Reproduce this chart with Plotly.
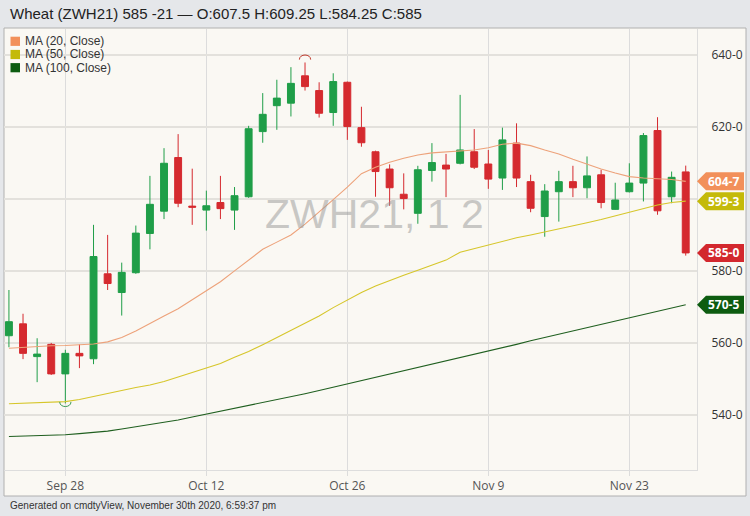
import plotly.graph_objects as go

dates = ["2020-09-22", "2020-09-23", "2020-09-24", "2020-09-25", "2020-09-28", "2020-09-29", "2020-09-30",
         "2020-10-01", "2020-10-02", "2020-10-05", "2020-10-06", "2020-10-07", "2020-10-08", "2020-10-09",
         "2020-10-12", "2020-10-13", "2020-10-14", "2020-10-15", "2020-10-16", "2020-10-19", "2020-10-20",
         "2020-10-21", "2020-10-22", "2020-10-23", "2020-10-26", "2020-10-27", "2020-10-28", "2020-10-29",
         "2020-10-30", "2020-11-02", "2020-11-03", "2020-11-04", "2020-11-05", "2020-11-06", "2020-11-09",
         "2020-11-10", "2020-11-11", "2020-11-12", "2020-11-13", "2020-11-16", "2020-11-17", "2020-11-18",
         "2020-11-19", "2020-11-20", "2020-11-23", "2020-11-24", "2020-11-25", "2020-11-27", "2020-11-30"]

open_ = [562.0, 565.3, 556.2, 559.6, 551.4, 557.1, 555.6, 579.2, 574.0, 579.5, 590.4, 596.6, 611.5, 598.0,
         596.9, 599.0, 596.9, 600.6, 618.7, 625.9, 626.6, 634.2, 630.1, 624.0, 632.4, 619.8, 613.1, 608.3,
         601.3, 596.0, 607.9, 609.4, 609.9, 613.1, 609.7, 605.8, 615.5, 604.8, 595.1, 602.0, 604.8, 603.1,
         606.7, 597.1, 602.0, 604.4, 619.0, 600.6, 607.5]
high = [574.7, 568.1, 561.3, 560.0, 558.1, 559.6, 592.8, 590.0, 582.3, 592.6, 606.4, 614.1, 618.0, 608.4,
        602.3, 606.4, 603.3, 620.3, 629.4, 633.1, 636.6, 637.9, 632.4, 634.9, 632.6, 625.6, 613.4, 609.6,
        607.1, 609.2, 615.5, 612.5, 628.9, 619.4, 613.6, 619.8, 621.0, 606.7, 604.1, 607.8, 609.2, 611.8,
        608.1, 604.5, 609.9, 618.3, 622.7, 607.6, 609.25]
low = [558.8, 555.5, 549.1, 551.1, 543.2, 553.0, 554.1, 574.7, 567.6, 579.2, 586.0, 594.4, 597.7, 592.8,
       591.2, 594.4, 591.4, 600.3, 615.6, 619.2, 622.9, 630.1, 622.6, 620.3, 616.4, 614.5, 600.6, 598.1,
       597.1, 593.1, 604.8, 600.5, 609.6, 608.3, 602.8, 602.5, 603.3, 596.3, 589.5, 593.7, 600.5, 600.2,
       597.4, 597.0, 601.8, 599.3, 595.6, 598.8, 584.25]
close = [565.9, 557.1, 556.9, 551.4, 557.1, 556.4, 584.0, 576.5, 579.6, 590.5, 598.5, 609.9, 598.8, 597.7,
         598.1, 597.3, 600.9, 619.5, 623.5, 628.0, 632.1, 631.2, 623.8, 632.6, 620.1, 615.6, 607.6, 603.1,
         600.1, 608.1, 610.1, 608.3, 613.6, 608.8, 605.5, 616.4, 605.8, 597.4, 602.2, 604.8, 603.1, 606.4,
         599.0, 599.7, 604.4, 617.6, 596.7, 606.0, 585.0]

ma20 = [558.5, 558.8, 559.0, 559.2, 559.3, 559.5, 559.7, 560.3, 561.5, 563.3, 565.5, 567.5, 569.5, 572.0,
        574.5, 577.0, 580.0, 583.0, 586.0, 588.0, 590.0, 593.0, 596.3, 599.8, 603.3, 607.0, 608.8, 610.2,
        611.3, 612.2, 612.8, 613.0, 613.2, 613.6, 614.2, 615.2, 615.5, 614.8, 613.6, 612.5, 611.0, 609.6,
        608.3, 607.2, 606.2, 605.8, 605.7, 605.4, 604.875]
ma50 = [543.1, 543.2, 543.3, 543.5, 543.7, 544.3, 545.2, 546.0, 546.8, 547.6, 548.3, 549.3, 550.5, 551.8,
        553.0, 554.3, 556.0, 557.6, 559.5, 561.5, 563.5, 565.5, 567.5, 569.8, 572.0, 574.0, 575.8, 577.4,
        578.8, 580.2, 581.6, 583.0, 585.2, 586.2, 587.2, 588.3, 589.2, 590.0, 590.8, 591.6, 592.5, 593.4,
        594.3, 595.3, 596.4, 597.3, 598.3, 599.0, 599.375]
ma100 = [534.0, 534.1, 534.2, 534.3, 534.5, 534.8, 535.1, 535.5, 536.1, 536.7, 537.3, 537.9, 538.6, 539.4,
         540.2, 541.0, 541.7, 542.5, 543.3, 544.1, 545.0, 545.9, 546.8, 547.7, 548.6, 549.5, 550.4, 551.3,
         552.2, 553.1, 554.0, 554.9, 555.8, 556.7, 557.6, 558.6, 559.6, 560.6, 561.5, 562.4, 563.3, 564.2,
         565.1, 566.0, 566.9, 567.8, 568.7, 569.6, 570.625]

tick_dates = ["2020-09-28", "2020-10-12", "2020-10-26", "2020-11-09", "2020-11-23"]
tick_labels = ["Sep 28", "Oct 12", "Oct 26", "Nov 9", "Nov 23"]
y_ticks = [540, 560, 580, 600, 620, 640]

ma_names = ["MA (20, Close)", "MA (50, Close)", "MA (100, Close)"]
ma_line_colors = ["#eda27a", "#d6c62a", "#1f5f1f"]
ma_badge_colors = ["#f2905a", "#c4ba0a", "#0d5c10"]
close_badge_color = "#d3282e"
up_color = "#1f9e48"
down_color = "#d52a2f"


def fmt(v):
    whole = int(v)
    return f"{whole}-{int(round((v - whole) * 8))}"


x = list(range(len(dates)))
fig = go.Figure()

for vals, col in zip([ma100, ma50, ma20], [ma_line_colors[2], ma_line_colors[1], ma_line_colors[0]]):
    fig.add_trace(go.Scatter(x=x, y=vals, mode="lines", line=dict(color=col, width=1.1),
                             showlegend=False, hoverinfo="skip"))

fig.add_trace(go.Candlestick(
    x=x, open=open_, high=high, low=low, close=close,
    increasing=dict(line=dict(color=up_color, width=1), fillcolor=up_color),
    decreasing=dict(line=dict(color=down_color, width=1), fillcolor=down_color),
    whiskerwidth=0, showlegend=False))

shapes = []
annotations = []

L, R_PX, T, B = 4, 697, 29, 470
W, H = R_PX - L, B - T


def px_x(p):
    return (p - L) / W


def px_y(p):
    return (B - p) / H


# chart box
shapes.append(dict(type="rect", xref="paper", yref="paper", x0=px_x(4), x1=px_x(746), y0=px_y(496), y1=px_y(28),
                   fillcolor="#faf8f3", line=dict(color="#b0b0b0", width=1), layer="below"))

# legend
for k, (name, col) in enumerate(zip(ma_names, ma_badge_colors)):
    yc = 41.3 + k * 13.2
    shapes.append(dict(type="rect", xref="paper", yref="paper", x0=px_x(10.5), x1=px_x(20), y0=px_y(yc + 4.6),
                       y1=px_y(yc - 4.6), fillcolor=col, line=dict(width=0)))
    annotations.append(dict(xref="paper", yref="paper", x=px_x(24), y=px_y(yc), text=name, showarrow=False,
                            xanchor="left", yanchor="middle", borderpad=0,
                            font=dict(family="Liberation Sans, Arial", size=12, color="#333333")))

# price badges on right axis
badges = [(ma20[-1], ma_badge_colors[0]), (ma50[-1], ma_badge_colors[1]),
          (close[-1], close_badge_color), (ma100[-1], ma_badge_colors[2])]
hh = 2.5
xb, xr = px_x(706), px_x(744)
for v, col in badges:
    path = f"M 1.0,{v} L {xb},{v + hh} L {xr},{v + hh} L {xr},{v - hh} L {xb},{v - hh} Z"
    shapes.append(dict(type="path", xref="paper", yref="y", path=path, fillcolor=col, line=dict(width=0)))
    annotations.append(dict(xref="paper", yref="y", x=px_x(724), y=v, text=f"<b>{fmt(v)}</b>", showarrow=False,
                            xanchor="center", yanchor="middle", borderpad=0,
                            font=dict(family="Open Sans", size=12, color="white")))

# tick labels hidden behind a badge are left blank
badge_vals = [v for v, _ in badges]
y_ticktext = ["" if any(abs(t - b) < 2.5 for b in badge_vals) else fmt(t) for t in y_ticks]

# max / min arcs
imax = max(range(len(high)), key=lambda i: high[i])
imin = min(range(len(low)), key=lambda i: low[i])
hx = 0.4
y0 = high[imax] + 0.8
shapes.append(dict(type="path", xref="x", yref="y",
                   path=f"M {imax - hx},{y0} C {imax - hx},{y0 + 1.7} {imax + hx},{y0 + 1.7} {imax + hx},{y0}",
                   line=dict(color="#c0392b", width=1)))
y1 = low[imin] + 0.4
shapes.append(dict(type="path", xref="x", yref="y",
                   path=f"M {imin - hx},{y1} C {imin - hx},{y1 - 1.7} {imin + hx},{y1 - 1.7} {imin + hx},{y1}",
                   line=dict(color="#3c9c55", width=1)))

# watermark
annotations.append(dict(xref="paper", yref="paper", x=px_x(374), y=px_y(214), text="ZWH21, 1 2", showarrow=False,
                        xanchor="center", yanchor="middle",
                        font=dict(family="Liberation Sans, Arial", size=41, color="rgba(150,150,150,0.5)")))

# footer
annotations.append(dict(xref="paper", yref="paper", x=px_x(8), y=px_y(505.5),
                        text="Generated on cmdtyView, November 30th 2020, 6:59:37 pm", showarrow=False,
                        xanchor="left", yanchor="middle",
                        font=dict(family="Liberation Sans, Arial", size=10, color="#333333")))

fig.update_layout(
    width=750, height=516,
    margin=dict(l=L, r=750 - R_PX, t=T, b=516 - B),
    paper_bgcolor="#e5e7ea", plot_bgcolor="#faf8f3",
    title=dict(text="Wheat (ZWH21) 585 -21 — O:607.5 H:609.25 L:584.25 C:585", xref="container", yref="container",
               x=10 / 750, y=1 - 13.5 / 516, xanchor="left", yanchor="middle",
               font=dict(family="Liberation Sans, Arial", size=15, color="#222222")),
    showlegend=False,
    shapes=shapes, annotations=annotations,
    xaxis=dict(range=[-0.35, 48.8], tickvals=[dates.index(d) for d in tick_dates], ticktext=tick_labels,
               showgrid=True, gridcolor="#dcdcdc", gridwidth=1, zeroline=False,
               ticks="outside", ticklen=5, tickcolor="#dcdcdc",
               showline=True, linecolor="#dddddd", linewidth=1,
               tickfont=dict(family="Open Sans", size=12, color="#555555"),
               rangeslider=dict(visible=False), fixedrange=True),
    yaxis=dict(side="right", range=[524.7, 647.2], tickvals=y_ticks, ticktext=y_ticktext,
               showgrid=True, gridcolor="#e3e1dc", gridwidth=1.6, zeroline=False,
               showline=True, linecolor="#dddddd", linewidth=1, ticks="", ticklabelstandoff=11,
               tickfont=dict(family="Open Sans", size=12, color="#333333"), fixedrange=True),
)

fig.write_html("out.html", config={"displayModeBar": False},
               post_script="document.body.style.margin='0px';document.body.style.overflow='hidden';")
